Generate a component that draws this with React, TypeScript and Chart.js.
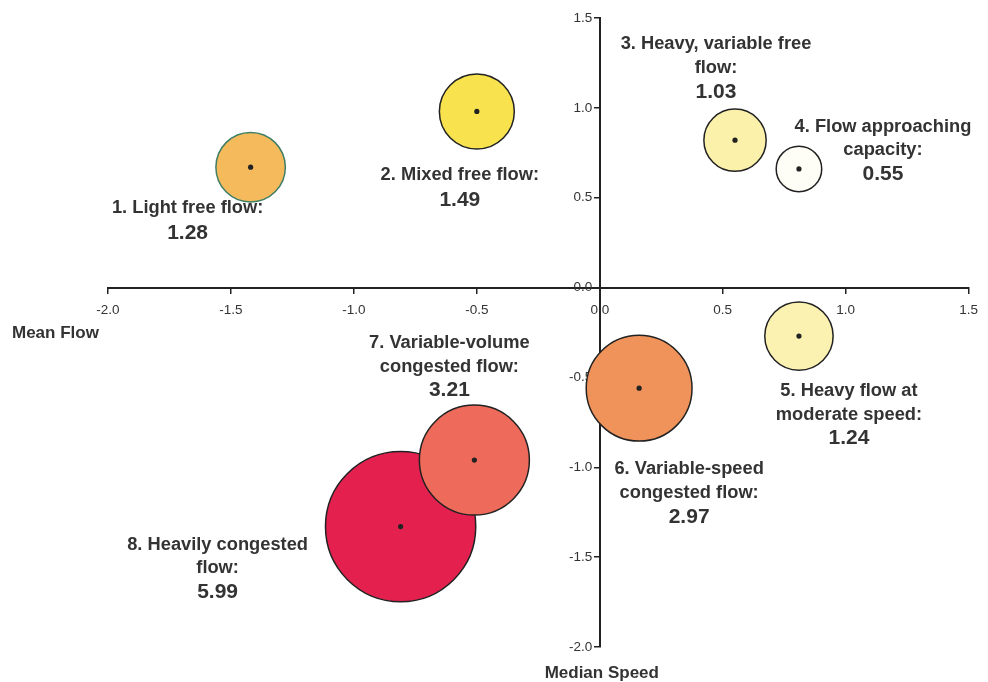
import { useEffect, useRef } from "react";
import { Chart, registerables } from "chart.js";

Chart.register(...registerables);

// ---- data ----
const labelLines: string[][] = [
  ["1. Light free flow:"],
  ["2. Mixed free flow:"],
  ["3. Heavy, variable free", "flow:"],
  ["4. Flow approaching", "capacity:"],
  ["5. Heavy flow at", "moderate speed:"],
  ["6. Variable-speed", "congested flow:"],
  ["7. Variable-volume", "congested flow:"],
  ["8. Heavily congested", "flow:"],
];
const meanFlow = [-1.42, -0.5, 0.55, 0.81, 0.81, 0.16, -0.51, -0.81];
const medianSpeed = [0.67, 0.98, 0.82, 0.66, -0.27, -0.56, -0.96, -1.33];
const clusterValue = [1.28, 1.49, 1.03, 0.55, 1.24, 2.97, 3.21, 5.99];
const axisMin = -2.0;
const axisMax = 1.5;
const tickStep = 0.5;
const xTitle = "Mean Flow";
const yTitle = "Median Speed";

// ---- styles ----
const fills = ["#F4BA5C", "#F8E24E", "#FBF1AA", "#FFFEF6", "#FBF2B2", "#F0935B", "#EE6A5A", "#E4204E"];
const borders = ["#3f7f66", "#222", "#222", "#222", "#222", "#222", "#222", "#222"];
const labelOffsets: [number, number][] = [
  [-63, 41],
  [-17, 64],
  [-19, -96],
  [84, -42],
  [50, 55],
  [50, 81],
  [-25, -117],
  [-183, 18],
];
const FONT = "'Liberation Sans', Arial, Helvetica, sans-serif";
const TEXT = "#333";

const labelPlugin = {
  id: "bubbleLabels",
  afterDatasetsDraw(chart: any) {
    const ctx = chart.ctx;
    const xs = chart.scales.x;
    const ys = chart.scales.y;
    ctx.save();
    ctx.fillStyle = TEXT;
    ctx.textAlign = "center";
    ctx.textBaseline = "middle";
    labelLines.forEach((lines, i) => {
      const cx = xs.getPixelForValue(meanFlow[i]);
      const cy = ys.getPixelForValue(medianSpeed[i]);
      const [dx, dy] = labelOffsets[i];
      let y = cy + dy;
      ctx.font = `bold 18.3px ${FONT}`;
      lines.forEach((l, k) => {
        if (k > 0) y += 23.5;
        ctx.fillText(l, cx + dx, y);
      });
      y += lines.length === 1 ? 25 : 24;
      ctx.font = `bold 21px ${FONT}`;
      ctx.fillText(clusterValue[i].toFixed(2), cx + dx, y);
    });
    // axis titles
    ctx.font = `bold 17px ${FONT}`;
    ctx.textAlign = "left";
    ctx.fillText(xTitle, 12, 333);
    ctx.textAlign = "center";
    ctx.fillText(yTitle, xs.getPixelForValue(0) + 2, 673);
    ctx.restore();
  },
};

export default function App() {
  const ref = useRef<HTMLCanvasElement | null>(null);
  useEffect(() => {
    if (!ref.current) return;
    const bubbleSets = clusterValue.map((v, i) => ({
      label: labelLines[i].join(" "),
      data: [{ x: meanFlow[i], y: medianSpeed[i], r: 30.7 * Math.sqrt(v) }],
      backgroundColor: fills[i],
      borderColor: borders[i],
      borderWidth: 1.5,
    }));
    const dots = {
      label: "centres",
      data: meanFlow.map((x, i) => ({ x, y: medianSpeed[i], r: 2.6 })),
      backgroundColor: "#222",
      borderColor: "#222",
      borderWidth: 0,
    };
    const chart = new Chart(ref.current, {
      type: "bubble",
      data: { datasets: [dots, ...bubbleSets] as any },
      options: {
        animation: false,
        responsive: false,
        devicePixelRatio: 1,
        layout: { autoPadding: false, padding: { left: 108, right: 18, top: 18, bottom: 35 } },
        plugins: { legend: { display: false }, tooltip: { enabled: false } },
        scales: {
          x: {
            type: "linear",
            min: axisMin,
            max: axisMax,
            position: { y: 0 } as any,
            afterFit: (s: any) => {
              s.height = 0;
            },
            border: { display: true, color: "#222", width: 2 },
            grid: { display: true, drawOnChartArea: false, drawTicks: true, tickLength: 5, color: "#222", lineWidth: 1.5 },
            ticks: {
              stepSize: tickStep,
              padding: 10,
              color: TEXT,
              font: { family: FONT, size: 13.5 },
              maxRotation: 0,
              callback: (v: any) => Number(v).toFixed(1),
            },
          },
          y: {
            type: "linear",
            min: axisMin,
            max: axisMax,
            position: { x: 0 } as any,
            afterFit: (s: any) => {
              s.width = 0;
            },
            border: { display: true, color: "#222", width: 2 },
            grid: { display: true, drawOnChartArea: false, drawTicks: true, tickLength: 5, color: "#222", lineWidth: 1.5 },
            ticks: {
              stepSize: tickStep,
              color: TEXT,
              font: { family: FONT, size: 13.5 },
              callback: (v: any) => Number(v).toFixed(1) + "\u00a0\u00a0",
            },
          },
        },
      },
      plugins: [labelPlugin],
    });
    return () => chart.destroy();
  }, []);
  return (
    <div style={{ position: "fixed", left: 0, top: 0, width: 988, height: 682, background: "#fff" }}>
      <canvas ref={ref} width={988} height={682} />
    </div>
  );
}
